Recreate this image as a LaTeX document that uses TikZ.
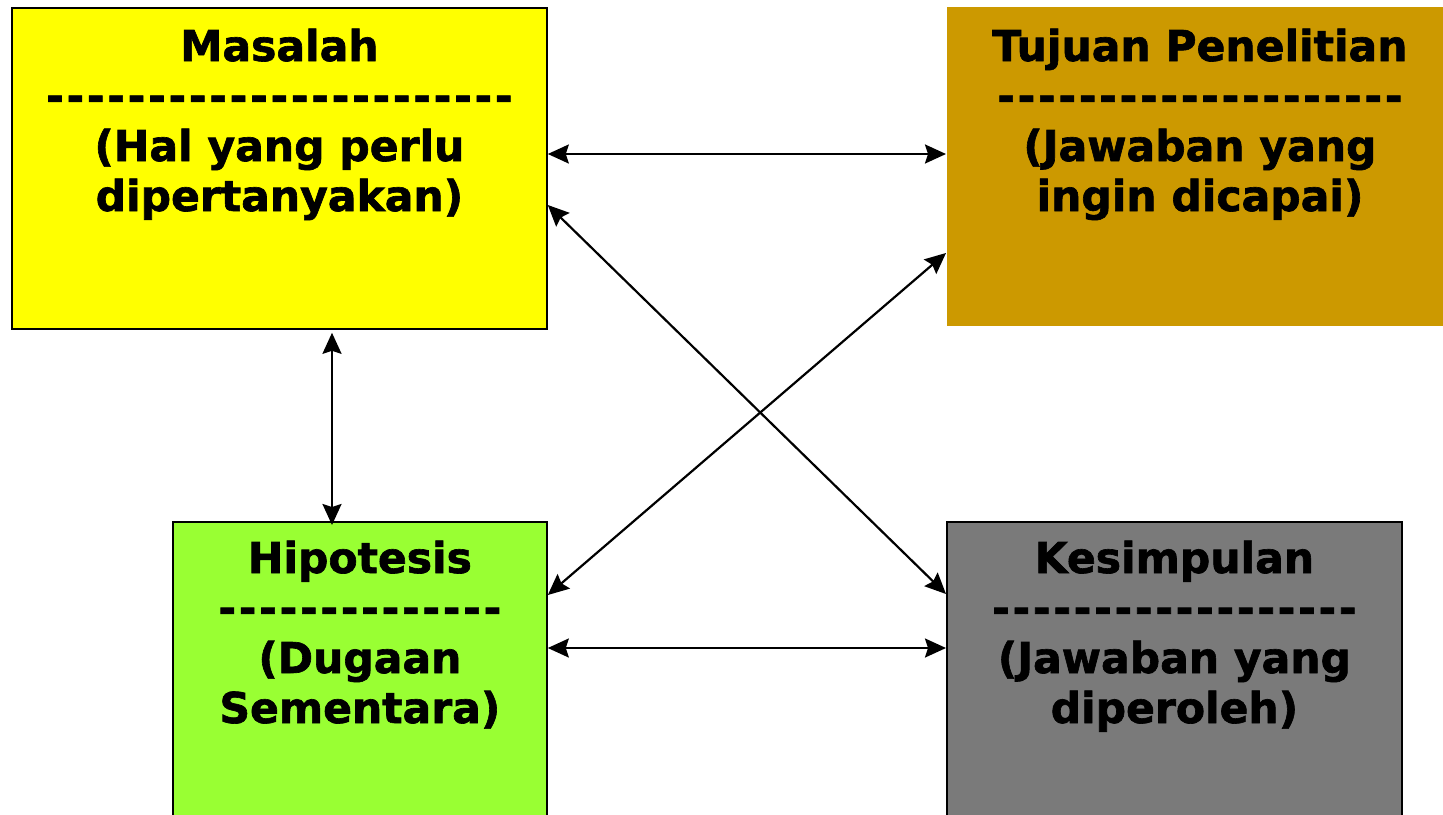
\documentclass[tikz,border=0pt]{standalone}
\usepackage{fontspec}
\setmainfont{DejaVu Sans}[Ligatures=TeXOff,BoldFeatures={FakeBold=1.5}]
\usetikzlibrary{arrows.meta}
\newcommand\dashline[1]{\foreach\i in {1,...,#1}{\makebox[20.4pt]{-}}}
\definecolor{cmas}{HTML}{FFFF00}
\definecolor{ctuj}{HTML}{CC9900}
\definecolor{chip}{HTML}{99FF33}
\definecolor{ckes}{HTML}{7A7A7A}
\tikzset{
  box/.style={draw=black,line width=1.8pt,anchor=north west,inner sep=0pt},
  txt/.style={anchor=base,inner sep=0pt,font=\bfseries\fontsize{42.5}{50}\selectfont},
  link/.style={line width=2.2pt,{Stealth[length=21pt,width=19pt,inset=3pt]}-{Stealth[length=21pt,width=19pt,inset=3pt]}}
}
\begin{document}
\begin{tikzpicture}[x=1pt,y=-1pt]
\useasboundingbox (0,0) rectangle (1443,814);
\clip (0,0) rectangle (1443,814);
\fill[white] (0,0) rectangle (1443,814);
\node[box,fill=cmas,minimum width=535pt,minimum height=321pt] (mas) at (11,7) {};
\node[box,draw=none,fill=ctuj,minimum width=506pt,minimum height=319pt] (tuj) at (946,6) {};
\node[box,fill=chip,minimum width=374pt,minimum height=320pt] (hip) at (172,521) {};
\node[box,fill=ckes,minimum width=455pt,minimum height=320pt] (kes) at (946,521) {};

\node[txt] (tmas) at ([yshift=-54pt]mas.north) {\begin{tabular}[t]{@{}c@{}}Masalah\\ \dashline{23}\\ (Hal yang perlu\\ dipertanyakan)\end{tabular}};
\node[txt] (ttuj) at ([yshift=-55pt]tuj.north) {\begin{tabular}[t]{@{}c@{}}Tujuan Penelitian\\ \dashline{20}\\ (Jawaban yang\\ ingin dicapai)\end{tabular}};
\node[txt] (thip) at ([yshift=-52pt]hip.north) {\begin{tabular}[t]{@{}c@{}}Hipotesis\\ \dashline{14}\\ (Dugaan\\ Sementara)\end{tabular}};
\node[txt] (tkes) at ([yshift=-52pt]kes.north) {\begin{tabular}[t]{@{}c@{}}Kesimpulan\\ \dashline{18}\\ (Jawaban yang\\ diperoleh)\end{tabular}};

\draw[link] ([yshift=-147pt]mas.north east) -- ([yshift=-147pt]mas.north east -| tuj.west);
\draw[link] ([yshift=-198pt]mas.north east) -- ([yshift=-73pt]kes.north west);
\draw[link] ([yshift=-247pt]tuj.north west) -- ([yshift=-74pt]hip.north east);
\draw[link] ([yshift=-127pt]hip.north east) -- ([yshift=-127pt]hip.north east -| kes.west);
\draw[link] ([xshift=321pt,yshift=-3pt]mas.south west) -- ([xshift=160pt,yshift=-4pt]hip.north west);
\end{tikzpicture}
\end{document}
